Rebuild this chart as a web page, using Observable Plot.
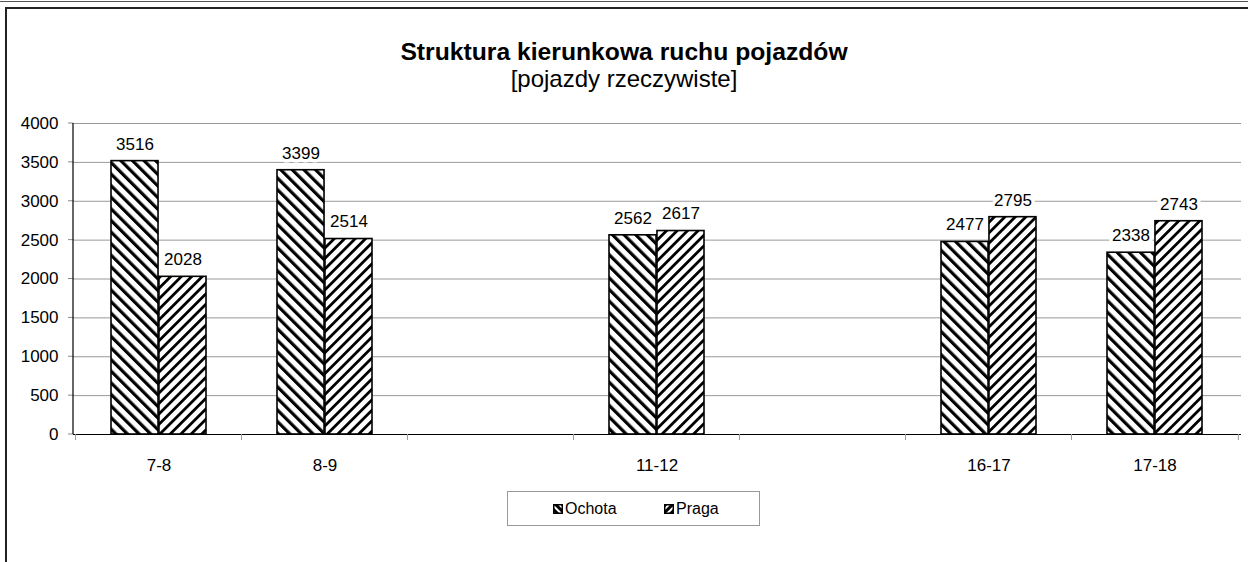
<!DOCTYPE html>
<html>
<head>
<meta charset="utf-8">
<script src="https://cdn.jsdelivr.net/npm/d3@7"></script>
<script src="https://cdn.jsdelivr.net/npm/@observablehq/plot@0.6"></script>
<style>
  html, body { margin: 0; padding: 0; background: #fff; }
  body { width: 1248px; height: 562px; position: relative; overflow: hidden; font-family: "Liberation Sans", Arial, sans-serif; color: #000; }
  #topline { position: absolute; left: 0; top: 1px; width: 1248px; height: 0; border-top: 1px solid #555; }
  #frame { position: absolute; left: 5px; top: 7px; width: 1300px; height: 600px; border-top: 2px solid #222; border-left: 2px solid #222; }
  #title { position: absolute; left: 0; top: 38px; width: 1248px; text-align: center; font-size: 24px; line-height: 27px; }
  #title b { font-weight: bold; font-size: 24.7px; }
  #chart { position: absolute; left: 0; top: 100px; }
  #legend { position: absolute; left: 507px; top: 491px; width: 251px; height: 33px; border: 1px solid #999; font-size: 16px; }
  .item { position: absolute; top: 8px; display: flex; align-items: center; height: 18px; }
  .item svg { margin-right: 2px; }
</style>
</head>
<body>
<div id="topline"></div>
<div id="frame"></div>
<div id="title"><b>Struktura kierunkowa ruchu pojazdów</b><br>[pojazdy rzeczywiste]</div>
<div id="chart"></div>
<div id="legend"></div>
<script>
// ---- data ----
const slots = ["7-8", "8-9", "gap-a", "11-12", "gap-b", "16-17", "17-18"];
const hours = ["7-8", "8-9", "11-12", "16-17", "17-18"];
const ochota = [3516, 3399, 2562, 2477, 2338];
const praga = [2028, 2514, 2617, 2795, 2743];
const yTicks = [0, 500, 1000, 1500, 2000, 2500, 3000, 3500, 4000];
const seriesNames = ["Ochota", "Praga"];

const rowsO = hours.map((h, i) => ({hour: h, value: ochota[i]}));
const rowsP = hours.map((h, i) => ({hour: h, value: praga[i]}));

// ---- layout ----
const W = 1248, H = 380;
const mL = 73, mR = 7, mT = 23, mB = 46;
const padInner = 0.425;
const step = (W - mL - mR) / slots.length;
const bw = step * (1 - padInner);
const half = bw / 2;
const numFont = 17;

function decor(index, scales, values, dims) {
  const x = scales.x, y = scales.y;
  const g = d3.create("svg:g");
  const y0 = y(0), yTop = y(4000);
  for (const t of yTicks) {
    g.append("line").attr("x1", dims.marginLeft - 5).attr("x2", dims.marginLeft)
      .attr("y1", y(t)).attr("y2", y(t)).attr("stroke", "#888");
  }
  const gapPx = step * padInner / 2;
  slots.forEach((s, i) => {
    const bx = x(s) - gapPx;
    g.append("line").attr("x1", bx).attr("x2", bx).attr("y1", y0).attr("y2", y0 + 6).attr("stroke", "#999");
    if (i === slots.length - 1) {
      const ex = x(s) + bw + gapPx;
      g.append("line").attr("x1", ex).attr("x2", ex).attr("y1", y0).attr("y2", y0 + 6).attr("stroke", "#999");
    }
  });
  g.append("line").attr("x1", dims.marginLeft).attr("x2", dims.marginLeft)
    .attr("y1", yTop).attr("y2", y0).attr("stroke", "#000").attr("stroke-width", 1.2);
  return g.node();
}

const labelStyle = {fill: "#000", stroke: "white", strokeWidth: 7, fontSize: numFont, dy: -17};

const plot = Plot.plot({
  width: W, height: H,
  marginLeft: mL, marginRight: mR, marginTop: mT, marginBottom: mB,
  style: {fontFamily: "'Liberation Sans', Arial, sans-serif", fontSize: "16px", background: "transparent", overflow: "visible"},
  x: {domain: slots, paddingInner: padInner, paddingOuter: padInner / 2, label: null},
  y: {domain: [0, 4000], label: null},
  marks: [
    Plot.ruleY(yTicks, {stroke: "#999", strokeWidth: 1}),
    Plot.barY(rowsO, {x: "hour", y: "value", fill: "url(#hatchO)", stroke: "#000", strokeWidth: 1.6, insetRight: half}),
    Plot.barY(rowsP, {x: "hour", y: "value", fill: "url(#hatchP)", stroke: "#000", strokeWidth: 1.6, insetLeft: half}),
    Plot.ruleY([0], {stroke: "#000", strokeWidth: 1.2}),
    decor,
    Plot.text(rowsO, {x: "hour", y: "value", text: d => String(d.value), dx: -half / 2, ...labelStyle}),
    Plot.text(rowsP, {x: "hour", y: "value", text: d => String(d.value), dx: half / 2, ...labelStyle}),
    Plot.axisY({ticks: yTicks, tickSize: 0, tickPadding: 15, fontSize: numFont, fill: "#000", tickFormat: d => String(d)}),
    Plot.axisX({tickSize: 0, tickPadding: 24, fontSize: numFont, fill: "#000", tickFormat: d => d.startsWith("gap") ? "" : d})
  ]
});

function addPatterns(svg, sO, sP) {
  const ns = "http://www.w3.org/2000/svg";
  const defs = document.createElementNS(ns, "defs");
  defs.innerHTML = `
    <pattern id="${sO.id}" patternUnits="userSpaceOnUse" width="${sO.p}" height="${sO.p}" patternTransform="rotate(-45)">
      <rect width="${sO.p}" height="${sO.p}" fill="white"/>
      <rect width="${sO.w}" height="${sO.p}" fill="black"/>
    </pattern>
    <pattern id="${sP.id}" patternUnits="userSpaceOnUse" width="${sP.p}" height="${sP.p}" patternTransform="rotate(45)">
      <rect width="${sP.p}" height="${sP.p}" fill="white"/>
      <rect width="${sP.w}" height="${sP.p}" fill="black"/>
    </pattern>`;
  svg.insertBefore(defs, svg.firstChild);
}
addPatterns(plot, {id: "hatchO", p: 8.2, w: 3.2}, {id: "hatchP", p: 7.4, w: 2.8});
document.getElementById("chart").appendChild(plot);

// ---- legend ----
const legend = document.getElementById("legend");
const legendX = [45, 156];
seriesNames.forEach((name, i) => {
  const item = document.createElement("div");
  item.className = "item";
  item.style.left = legendX[i] + "px";
  const pid = i === 0 ? "lgO" : "lgP";
  item.innerHTML = `<svg width="10" height="10"><rect x="0.75" y="0.75" width="8.5" height="8.5" fill="url(#${pid})" stroke="#000" stroke-width="1.5"/></svg><span>${name}</span>`;
  legend.appendChild(item);
  const sw = item.querySelector("svg");
  const ns = "http://www.w3.org/2000/svg";
  const defs = document.createElementNS(ns, "defs");
  const rot = i === 0 ? -45 : 45;
  defs.innerHTML = `<pattern id="${pid}" patternUnits="userSpaceOnUse" width="5" height="5" patternTransform="rotate(${rot})"><rect width="5" height="5" fill="white"/><rect width="3" height="5" fill="black"/></pattern>`;
  sw.insertBefore(defs, sw.firstChild);
});
</script>
</body>
</html>
